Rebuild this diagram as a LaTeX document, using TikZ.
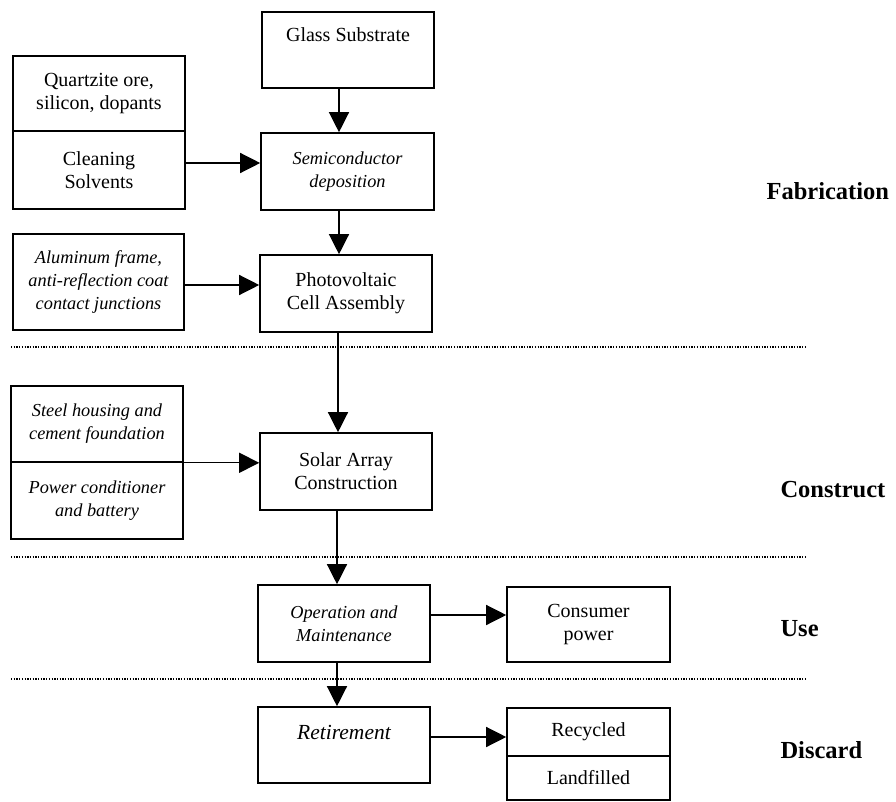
\documentclass[tikz,border=0pt]{standalone}
\usepackage{fontspec}
\setmainfont{Liberation Serif}
\usetikzlibrary{arrows.meta}
\begin{document}
\begin{tikzpicture}[x=1pt,y=-1pt,
  box/.style={draw, line width=1.6pt, rectangle, inner sep=0pt, align=center,
    font=\fontsize{20}{23}\selectfont},
  ibox/.style={box, font=\fontsize{18.3}{23}\selectfont\itshape},
  flow/.style={line width=1.3pt, -{Triangle[length=20pt,width=20pt]}},
  stagesep/.style={line width=1.3pt, dash pattern=on 1.3pt off 1.4pt},
  phase/.style={anchor=west, font=\fontsize{24.5}{27}\selectfont\bfseries}]
\useasboundingbox (0,0) rectangle (896,802);

% Fabrication stage
\node[box, minimum width=172pt, minimum height=76pt,
  label={[anchor=center, yshift=-23pt, font=\fontsize{20}{23}\selectfont]north:Glass Substrate}]
  (glass) at (348,50) {};
\node[box, minimum width=172pt, minimum height=75pt] (ore) at (99,93.5)
  {Quartzite ore,\\silicon, dopants};
\node[box, minimum width=172pt, minimum height=78pt] (clean) at (99,170)
  {Cleaning\\Solvents};
\node[ibox, minimum width=173pt, minimum height=77pt] (semi) at (347.5,171.5)
  {Semiconductor\\deposition};
\node[ibox, minimum width=171pt, minimum height=96pt] (alu) at (98.5,282)
  {Aluminum frame,\\anti-reflection coat\\contact junctions};
\node[box, minimum width=172pt, minimum height=77pt] (pv) at (346,293.5)
  {Photovoltaic\\Cell Assembly};

% Construction stage
\node[ibox, minimum width=172pt, minimum height=76pt] (steel) at (97,424)
  {Steel housing and\\cement foundation};
\node[ibox, minimum width=172pt, minimum height=77pt] (power) at (97,500.5)
  {Power conditioner\\and battery};
\node[box, minimum width=172pt, minimum height=77pt] (solar) at (346,471.5)
  {Solar Array\\Construction};

% Use stage
\node[ibox, minimum width=172pt, minimum height=77pt] (oper) at (344,623.5)
  {Operation and\\Maintenance};
\node[box, minimum width=163pt, minimum height=75pt] (consumer) at (588.5,624.5)
  {Consumer\\power};

% Discard stage
\node[box, minimum width=172pt, minimum height=76pt,
  label={[anchor=center, yshift=-26pt, font=\fontsize{21.5}{24}\selectfont\itshape]north:Retirement}]
  (retire) at (344,745) {};
\node[box, minimum width=163pt, minimum height=48pt] (recycled) at (588.5,732) {Recycled};
\node[box, minimum width=163pt, minimum height=44pt] (landfill) at (588.5,778) {Landfilled};

% Flow connectors
\draw[flow] ([xshift=-9pt]glass.south) -- ([xshift=-9pt]glass.south |- semi.north);
\draw[flow] ([yshift=7pt]clean.east) -- ([yshift=7pt]clean.east -| semi.west);
\draw[flow] ([xshift=-8.5pt]semi.south) -- ([xshift=-8.5pt]semi.south |- pv.north);
\draw[flow] ([yshift=-3pt]alu.east) -- ([yshift=-3pt]alu.east -| pv.west);
\draw[flow] ([xshift=-8pt]pv.south) -- ([xshift=-8pt]pv.south |- solar.north);
\draw[flow] (steel.south east) -- (steel.south east -| solar.west);
\draw[flow] ([xshift=-9pt]solar.south) -- ([xshift=-9pt]solar.south |- oper.north);
\draw[flow] ([yshift=8.5pt]oper.east) -- ([yshift=8.5pt]oper.east -| consumer.west);
\draw[flow] ([xshift=-7pt]oper.south) -- ([xshift=-7pt]oper.south |- retire.north);
\draw[flow] ([yshift=8pt]retire.east) -- ([yshift=8pt]retire.east -| recycled.west);

% Stage separators
\draw[stagesep] (11,347) -- (805,347);
\draw[stagesep] (11,557) -- (805,557);
\draw[stagesep] (11,679) -- (805,679);

% Stage labels
\node[phase] (fab) at (763,191) {Fabrication};
\node[phase] (con) at (777,490) {Construct};
\node[phase] (use) at (777,629) {Use};
\node[phase] (dis) at (777,750) {Discard};
\end{tikzpicture}
\end{document}
